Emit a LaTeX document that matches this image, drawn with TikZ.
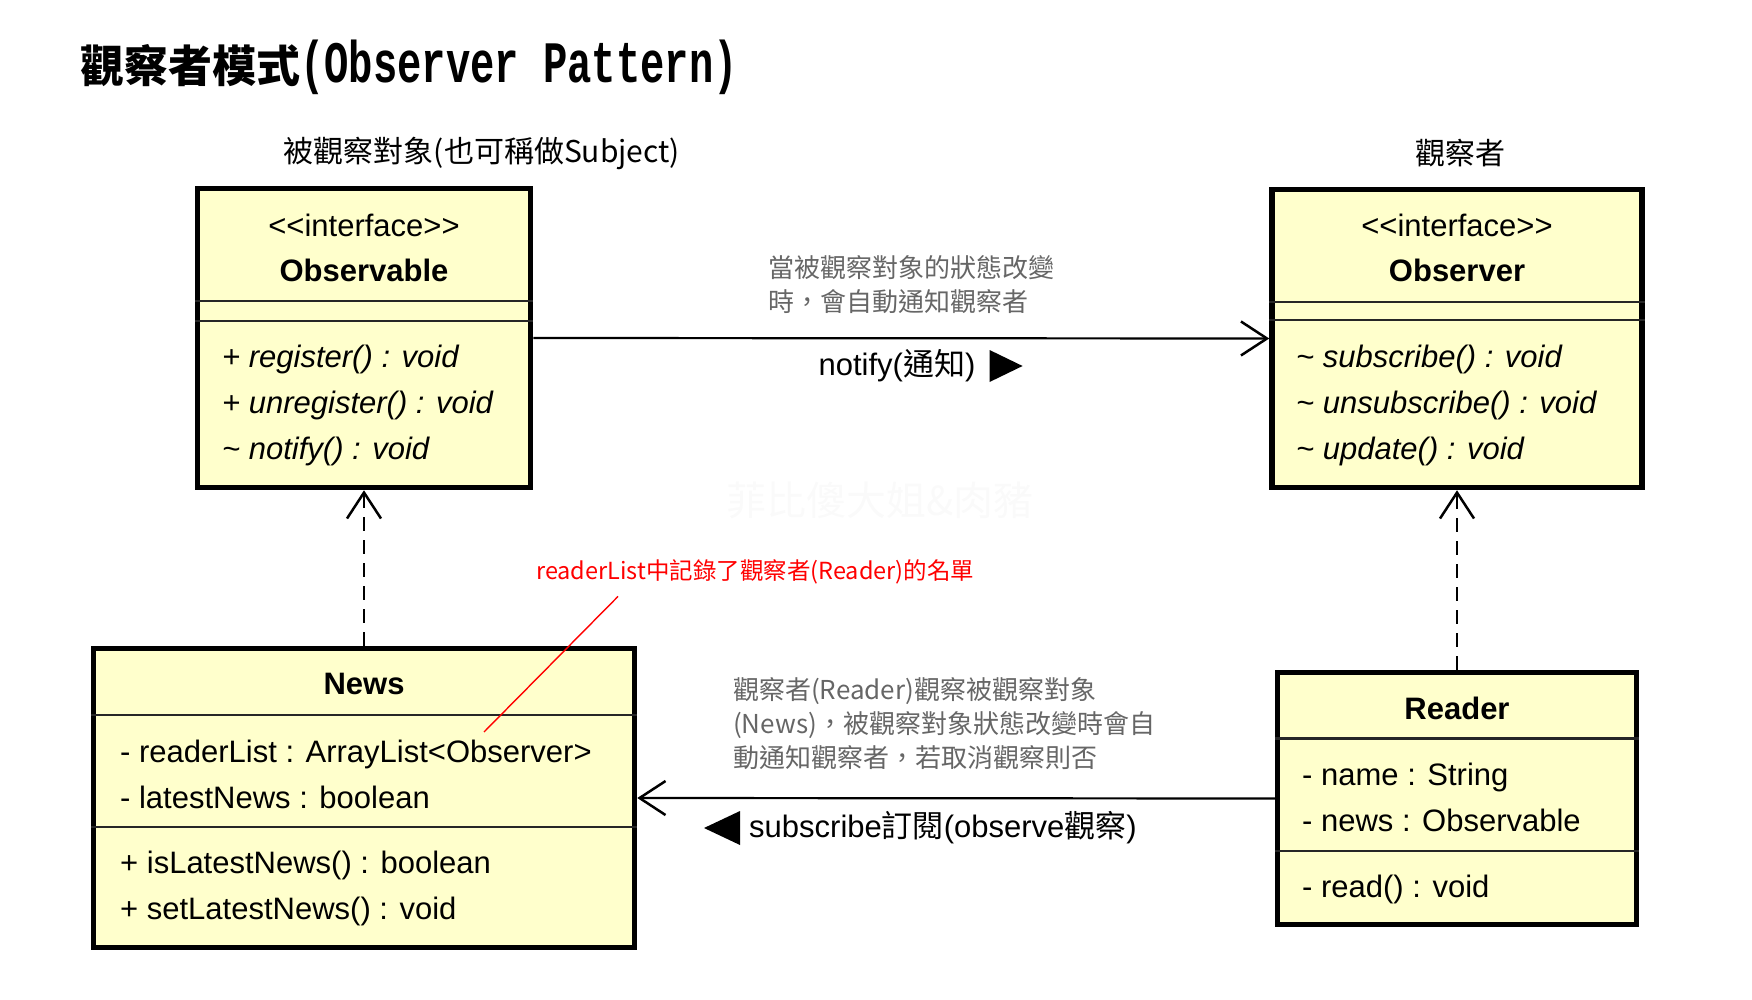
\documentclass[tikz,border=0pt]{standalone}
\usepackage{graphicx}
\usepackage{fontspec}
\setmainfont{Liberation Sans}
\newfontfamily\cjk{Noto Sans CJK TC}
\newfontfamily\titlemono{Liberation Mono}
\usetikzlibrary{arrows.meta,calc}
\definecolor{umlyellow}{RGB}{255,255,204}
\newcommand{\zh}[1]{{\cjk #1}}
\tikzset{
  classbox/.style={draw, line width=5.5pt, fill=umlyellow, inner sep=0pt},
  sepline/.style={line width=2.5pt, draw=black!85},
  uml/.style={font=\fontsize{31}{46}\selectfont, inner sep=0pt},
  umlname/.style={font=\fontsize{31}{46}\selectfont\bfseries, inner sep=0pt},
  members/.style={uml, anchor=west, align=left},
  methods/.style={members, font=\fontsize{31}{46}\selectfont\itshape},
  note/.style={font=\cjk\fontsize{26}{34}\selectfont, text=black!60, align=left, inner sep=0pt, anchor=west},
  assoc/.style={line width=2.2pt, -{Straight Barb[length=26pt,width=34pt,line width=2.5pt]}},
  realize/.style={assoc, dash pattern=on 14pt off 9pt},
}
\begin{document}
\begin{tikzpicture}[x=1pt,y=-1pt]
    \useasboundingbox (0,0) rectangle (1752,1000);
    \node[anchor=base west, inner sep=0pt] (TITLE) at (80,83) {\fontsize{44}{44}\cjk\bfseries 觀察者模式\titlemono\bfseries\fontsize{40.5}{44}\selectfont\scalebox{1}[1.45]{(Observer Pattern)}};
    \node[font=\cjk\fontsize{30}{30}\selectfont] (SUBJL) at (482,153) {被觀察對象(也可稱做Subject)};
    \node[font=\cjk\fontsize{30}{30}\selectfont] (OBSVL) at (1460,153) {觀察者};
    \node[font=\cjk\fontsize{40}{40}\selectfont, text=black!2] (WMARK) at (880,500) {菲比傻大姐\&肉豬};

    \node[classbox, minimum width=333pt, minimum height=299pt] (SUBJ) at (364,338) {};
    \draw[sepline] (SUBJ.west |- 0,301) -- (SUBJ.east |- 0,301);
    \draw[sepline] (SUBJ.west |- 0,321) -- (SUBJ.east |- 0,321);
    \node[uml] (SUBJS) at (364,225) {<{}<interface>{}>};
    \node[umlname] (SUBJN) at (364,270) {Observable};
    \node[methods] (SUBJM) at (222,405) {+ register() : void\\+ unregister() : void\\\textasciitilde{} notify() : void};

    \node[classbox, minimum width=370pt, minimum height=298pt] (OBSV) at (1457,338.5) {};
    \draw[sepline] (OBSV.west |- 0,302) -- (OBSV.east |- 0,302);
    \draw[sepline] (OBSV.west |- 0,320) -- (OBSV.east |- 0,320);
    \node[uml] (OBSVS) at (1457,225) {<{}<interface>{}>};
    \node[umlname] (OBSVN) at (1457,270) {Observer};
    \node[methods] (OBSVM) at (1296,405) {\textasciitilde{} subscribe() : void\\\textasciitilde{} unsubscribe() : void\\\textasciitilde{} update() : void};

    \node[classbox, minimum width=541pt, minimum height=299pt] (NEWS) at (364,798) {};
    \draw[sepline] (NEWS.west |- 0,715) -- (NEWS.east |- 0,715);
    \draw[sepline] (NEWS.west |- 0,827) -- (NEWS.east |- 0,827);
    \node[umlname] (NEWSN) at (364,684) {News};
    \node[members] (NEWSA) at (120,774) {- readerList : ArrayList<Observer>\\- latestNews : boolean};
    \node[members] (NEWSM) at (120,888) {+ isLatestNews() : boolean\\+ setLatestNews() : void};

    \node[classbox, minimum width=359pt, minimum height=252pt] (READ) at (1457,798.5) {};
    \draw[sepline] (READ.west |- 0,738.5) -- (READ.east |- 0,738.5);
    \draw[sepline] (READ.west |- 0,851) -- (READ.east |- 0,851);
    \node[umlname] (READN) at (1457,708) {Reader};
    \node[members] (READA) at (1302,797.5) {- name : String\\- news : Observable};
    \node[members] (READM) at (1302,889) {- read() : void};

    \draw[assoc] (SUBJ.east) -- (OBSV.west);
    \draw[assoc] (READ.west) -- (NEWS.east);
    \draw[realize] (NEWS.north) -- (SUBJ.south);
    \draw[realize] (READ.north) -- (OBSV.south);

    \node[note] (NOTIFYN) at (768,285) {當被觀察對象的狀態改變\\時，會自動通知觀察者};
    \node[uml] (NOTIFYL) at (897,366) {notify(\zh{通知})};
    \fill ($(NOTIFYL.east)+(14,-16)$) -- ++(33,16) -- ++(-33,16) -- cycle;

    \node[note] (SUBSN) at (733,724) {觀察者(Reader)觀察被觀察對象\\(News)，被觀察對象狀態改變時會自\\動通知觀察者，若取消觀察則否};
    \node[uml, anchor=west] (SUBSL) at (749,828) {subscribe\zh{訂閱}(observe\zh{觀察})};
    \fill ($(SUBSL.west)+(-9,-17)$) -- ++(0,34) -- ++(-36,-17) -- cycle;

    \node[font=\cjk\fontsize{23.5}{24}\selectfont, text=red, anchor=west, inner sep=0pt] (RNOTE) at (536,572) {readerList中記錄了觀察者(Reader)的名單};
    \coordinate (RTGT) at (484,732);
    \draw[red, line width=1.4pt] ([xshift=82pt,yshift=-12pt]RNOTE.south west) -- (RTGT);
\end{tikzpicture}
\end{document}
